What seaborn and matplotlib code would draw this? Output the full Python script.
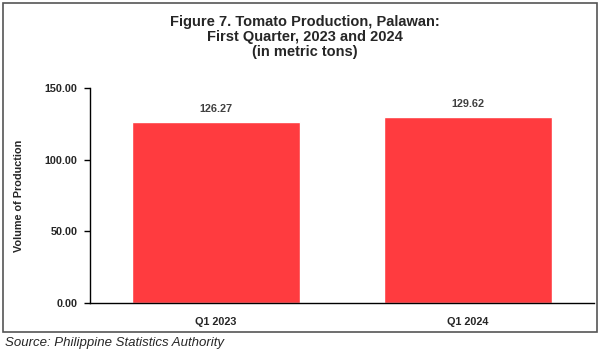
import matplotlib
matplotlib.use("Agg")
import matplotlib.pyplot as plt
import seaborn as sns
import pandas as pd
from matplotlib.patches import Rectangle

categories = ["Q1 2023", "Q1 2024"]
values = [126.27, 129.62]
yticks = [0, 50, 100, 150]

sns.set_theme(style="white")
plt.rcParams['font.family'] = ['Liberation Sans', 'DejaVu Sans']

W, H = 602, 356
fig = plt.figure(figsize=(W/100, H/100), dpi=100)
ax = fig.add_axes([90/W, 1-303/H, 504/W, 215/H])

df = pd.DataFrame({"cat": categories, "val": values})
sns.barplot(data=df, x="cat", y="val", color="#FF3B3F", saturation=1, width=0.67, ax=ax)
ax.set_xlim(-0.5, 1.5)
ax.set_ylim(0, 150)
ax.set_yticks(yticks)
ax.set_yticklabels([f"{v:.2f}" for v in yticks], fontsize=7.8, fontweight="bold")
ax.set_xticks(range(len(categories)))
ax.set_xticklabels(categories, fontsize=7.8, fontweight="bold")
ax.set_xlabel("")
ax.set_ylabel("Volume of Production", fontsize=7.8, fontweight="bold", labelpad=15)
for s in ["top", "right"]:
    ax.spines[s].set_visible(False)
for s in ["left", "bottom"]:
    ax.spines[s].set_color("black")
    ax.spines[s].set_linewidth(1.0)
ax.tick_params(axis="y", which="both", left=True, length=4, width=1, color="black", pad=5)
ax.tick_params(axis="x", bottom=False, pad=4)

for i, v in enumerate(values):
    ax.text(i, v + 5.5, f"{v:.2f}", ha="center", va="bottom", fontsize=7.8,
            fontweight="bold", color="#404040")

for j, line in enumerate(["Figure 7. Tomato Production, Palawan:", "First Quarter, 2023 and 2024", "(in metric tons)"]):
    fig.text(305/W, 1-(22+15*j)/H, line, ha="center", va="center", fontsize=10.5, fontweight="bold")

fig.text(5/W, 1-343/H, "Source: Philippine Statistics Authority", ha="left", va="center",
         fontsize=9.5, fontstyle="italic")

fig.patches.append(Rectangle((3/W, 1-332/H), 594/W, 329/H, transform=fig.transFigure,
                             fill=False, edgecolor="#555555", linewidth=1.2))

fig.savefig("out.png", dpi=100)
